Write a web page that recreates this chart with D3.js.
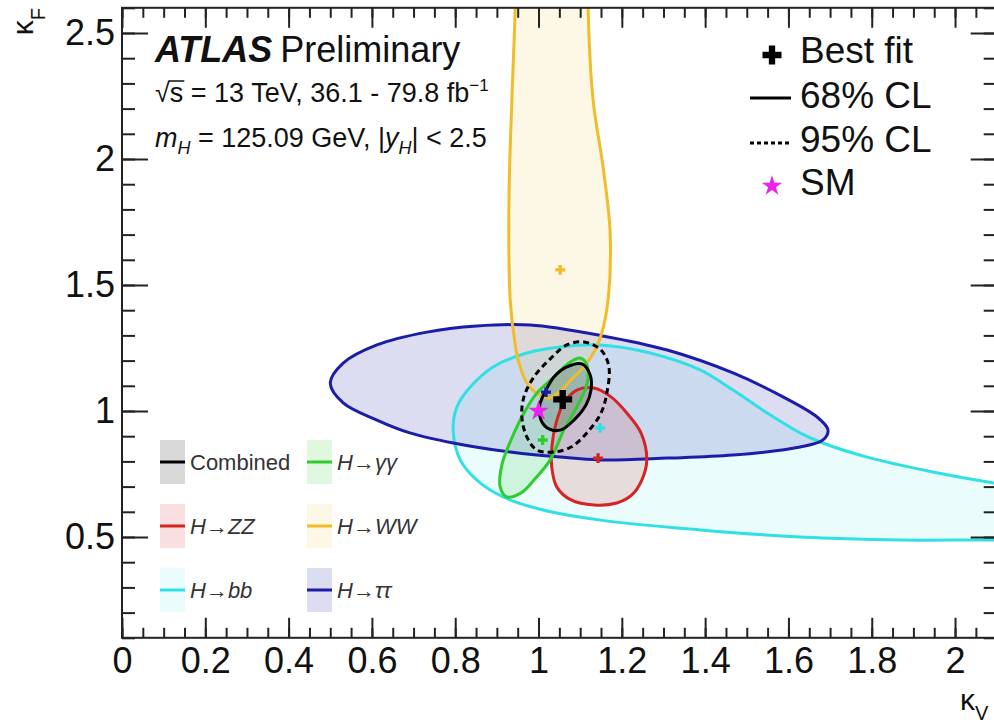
<!DOCTYPE html>
<html>
<head>
<meta charset="utf-8">
<script src="https://cdn.jsdelivr.net/npm/d3@7"></script>
<style>
  body { margin: 0; background: #fff; }
  svg { display: block; font-family: "Liberation Sans", Arial, sans-serif; }
</style>
</head>
<body>
<div id="chart"></div>
<script>
// tick values (kappa_V on x, kappa_F on y)
const xTickValues = [0, 0.2, 0.4, 0.6, 0.8, 1.0, 1.2, 1.4, 1.6, 1.8, 2.0];
const yTickValues = [0.5, 1.0, 1.5, 2.0, 2.5];

// contour points [kappa_V, kappa_F]
const contourBB = [
  [0.795, 0.925], [0.804, 1.016], [0.836, 1.095], [0.891, 1.175], [0.972, 1.230],
  [1.052, 1.254], [1.148, 1.262], [1.268, 1.230], [1.388, 1.163], [1.467, 1.083],
  [1.549, 0.992], [1.628, 0.913], [1.676, 0.877], [1.789, 0.817], [1.947, 0.758],
  [2.094, 0.714], [2.20, 0.690], [2.28, 0.630], [2.28, 0.520], [2.20, 0.485],
  [2.094, 0.488], [1.868, 0.488], [1.628, 0.500], [1.388, 0.528], [1.148, 0.567],
  [1.011, 0.607], [0.915, 0.659], [0.852, 0.726], [0.812, 0.806]
];
const contourTauTau = [
  [0.500, 1.111], [0.531, 1.190], [0.612, 1.262], [0.732, 1.313], [0.852, 1.337],
  [0.980, 1.341], [1.148, 1.300], [1.309, 1.242], [1.467, 1.151], [1.587, 1.056],
  [1.669, 0.976], [1.695, 0.925], [1.683, 0.885], [1.628, 0.857], [1.467, 0.825],
  [1.309, 0.813], [1.148, 0.806], [1.052, 0.817], [0.932, 0.837], [0.795, 0.873],
  [0.691, 0.913], [0.612, 0.964], [0.531, 1.032]
];
const contourWW = [
  [0.944, 2.671], [1.032, 2.730], [1.119, 2.671], [1.119, 2.599], [1.131, 2.234],
  [1.155, 1.968], [1.172, 1.706], [1.167, 1.440], [1.152, 1.310], [1.136, 1.242],
  [1.109, 1.175], [1.078, 1.123], [1.047, 1.071], [1.023, 1.052], [0.994, 1.071],
  [0.972, 1.111], [0.953, 1.190], [0.944, 1.262], [0.932, 1.440], [0.929, 1.837],
  [0.936, 2.234], [0.944, 2.599]
];
const contourGamGam = [
  [1.100, 1.210], [1.116, 1.183], [1.116, 1.103], [1.092, 1.016], [1.061, 0.925],
  [1.028, 0.806], [0.989, 0.726], [0.958, 0.675], [0.924, 0.659], [0.908, 0.698],
  [0.912, 0.786], [0.934, 0.885], [0.965, 0.992], [0.996, 1.071], [1.037, 1.135],
  [1.076, 1.194]
];
const contourZZ = [
  [1.092, 1.083], [1.133, 1.091], [1.174, 1.056], [1.212, 0.992], [1.246, 0.913],
  [1.260, 0.806], [1.248, 0.726], [1.224, 0.667], [1.188, 0.635], [1.133, 0.627],
  [1.078, 0.647], [1.044, 0.698], [1.032, 0.774], [1.032, 0.857], [1.042, 0.952],
  [1.061, 1.032]
];
const contourComb68 = [
  [1.104, 1.187], [1.124, 1.143], [1.126, 1.083], [1.114, 1.024], [1.085, 0.964],
  [1.054, 0.925], [1.025, 0.929], [1.006, 0.964], [1.003, 1.024], [1.018, 1.083],
  [1.037, 1.135], [1.068, 1.175]
];
const contourComb95 = [
  [1.109, 1.274], [1.150, 1.242], [1.169, 1.175], [1.164, 1.071], [1.150, 0.992],
  [1.116, 0.913], [1.078, 0.857], [1.037, 0.837], [0.996, 0.845], [0.972, 0.897],
  [0.960, 0.976], [0.965, 1.056], [0.989, 1.135], [1.030, 1.210], [1.068, 1.262]
];

// best-fit points [channel, kappa_V, kappa_F]
const bestFitPoints = [
  ["bb", 1.148, 0.933], ["tautau", 1.018, 1.075], ["WW", 1.052, 1.560],
  ["ZZ", 1.143, 0.813], ["gamgam", 1.010, 0.885]
];
const combinedBestFit = [1.058, 1.046];
const smPoint = [1.0, 1.0];

// legend
const legendChannels = ["comb", "gamgam", "ZZ", "WW", "bb", "tautau"];
const legendLabels = ["Combined", "H→γγ", "H→ZZ", "H→WW", "H→bb", "H→ττ"];

// styles
const colors = {
  bb: "#30e0e4", tautau: "#1c1caa", WW: "#f0bc28",
  ZZ: "#d42525", gamgam: "#2ecc2e", comb: "#000000"
};
const fillOpacity = { bb: 0.1, tautau: 0.15, WW: 0.12, ZZ: 0.15, gamgam: 0.15, comb: 0.15 };

const width = 994, height = 723;
const svg = d3.select("#chart").append("svg")
  .attr("width", width).attr("height", height);

const x = d3.scaleLinear().domain([0, 2.1]).range([122, 996.7]);
const y = d3.scaleLinear().domain([0.1, 2.6]).range([637.8, 7.8]);

svg.append("defs").append("clipPath").attr("id", "plot-clip")
  .append("rect")
  .attr("x", x(0)).attr("y", y(2.6))
  .attr("width", x(2.1) - x(0)).attr("height", y(0.1) - y(2.6));

const line = d3.line()
  .x((d) => x(d[0]))
  .y((d) => y(d[1]))
  .curve(d3.curveCatmullRomClosed.alpha(0.5));

const plot = svg.append("g").attr("clip-path", "url(#plot-clip)");

const contours = [
  { key: "bb", pts: contourBB },
  { key: "tautau", pts: contourTauTau },
  { key: "WW", pts: contourWW },
  { key: "ZZ", pts: contourZZ },
  { key: "gamgam", pts: contourGamGam },
  { key: "comb", pts: contourComb68 }
];

// fills first, then outlines
plot.selectAll(".fill").data(contours).enter().append("path")
  .attr("class", "fill")
  .attr("d", (d) => line(d.pts))
  .attr("fill", (d) => colors[d.key])
  .attr("fill-opacity", (d) => fillOpacity[d.key])
  .attr("stroke", "none");

plot.selectAll(".outline").data(contours).enter().append("path")
  .attr("class", "outline")
  .attr("d", (d) => line(d.pts))
  .attr("fill", "none")
  .attr("stroke", (d) => colors[d.key])
  .attr("stroke-width", 3);

plot.append("path")
  .attr("d", line(contourComb95))
  .attr("fill", "none")
  .attr("stroke", "#000")
  .attr("stroke-width", 3)
  .attr("stroke-dasharray", "6 4");

// best-fit markers
plot.selectAll(".bf").data(bestFitPoints).enter().append("path")
  .attr("class", "bf")
  .attr("transform", (d) => `translate(${x(d[1])},${y(d[2])})`)
  .attr("d", d3.symbol(d3.symbolCross, 55))
  .attr("fill", (d) => colors[d[0]]);

plot.append("path")
  .attr("transform", `translate(${x(smPoint[0])},${y(smPoint[1])})`)
  .attr("d", d3.symbol(d3.symbolStar, 130))
  .attr("fill", "#ee22ee");

plot.append("path")
  .attr("transform", `translate(${x(combinedBestFit[0])},${y(combinedBestFit[1])})`)
  .attr("d", d3.symbol(d3.symbolCross, 200))
  .attr("fill", "#000");

// axes with inward ticks
const xMinor = d3.range(0, 2.1001, 0.05);
const yMinor = d3.range(0.1, 2.6001, 0.1);
const axisStyle = (g) => {
  g.select(".domain").remove();
  g.selectAll("line").attr("stroke", "#222").attr("stroke-width", 2);
  g.selectAll("text").attr("fill", "#111").attr("font-size", 36);
};

svg.append("g").attr("transform", `translate(0,${y(0.1)})`)
  .call(d3.axisBottom(x).tickValues(xMinor).tickSize(-10).tickFormat(""))
  .call(axisStyle);
svg.append("g").attr("transform", `translate(0,${y(0.1)})`)
  .call(d3.axisBottom(x).tickValues(xTickValues).tickSize(-20).tickPadding(10)
    .tickFormat(d3.format("~g")))
  .call(axisStyle);
svg.append("g").attr("transform", `translate(0,${y(2.6)})`)
  .call(d3.axisTop(x).tickValues(xMinor).tickSize(-10).tickFormat(""))
  .call(axisStyle);
svg.append("g").attr("transform", `translate(0,${y(2.6)})`)
  .call(d3.axisTop(x).tickValues(xTickValues).tickSize(-20).tickFormat(""))
  .call(axisStyle);

svg.append("g").attr("transform", `translate(${x(0)},0)`)
  .call(d3.axisLeft(y).tickValues(yMinor).tickSize(-13).tickFormat(""))
  .call(axisStyle);
svg.append("g").attr("transform", `translate(${x(0)},0)`)
  .call(d3.axisLeft(y).tickValues(yTickValues).tickSize(-26).tickPadding(7)
    .tickFormat(d3.format("~g")))
  .call(axisStyle);
svg.append("g").attr("transform", `translate(${x(2.1)},0)`)
  .call(d3.axisRight(y).tickValues(yMinor).tickSize(-13).tickFormat(""))
  .call(axisStyle);
svg.append("g").attr("transform", `translate(${x(2.1)},0)`)
  .call(d3.axisRight(y).tickValues(yTickValues).tickSize(-26).tickFormat(""))
  .call(axisStyle);

// frame
svg.append("rect")
  .attr("x", x(0)).attr("y", y(2.6))
  .attr("width", x(2.1) - x(0)).attr("height", y(0.1) - y(2.6))
  .attr("fill", "none").attr("stroke", "#222").attr("stroke-width", 2);

// axis titles
const yTitle = svg.append("text")
  .attr("transform", "translate(33,8) rotate(-90)")
  .attr("text-anchor", "end")
  .attr("font-size", 30).attr("fill", "#111");
yTitle.append("tspan").text("κ");
yTitle.append("tspan").attr("font-size", 20).attr("dy", 12).text("F");

const xTitle = svg.append("text")
  .attr("x", 960).attr("y", 710)
  .attr("font-size", 30).attr("fill", "#111");
xTitle.append("tspan").text("κ");
xTitle.append("tspan").attr("font-size", 20).attr("dy", 10).text("V");

// ATLAS label block
const atlas = svg.append("text").attr("x", 155).attr("y", 62)
  .attr("font-size", 36).attr("fill", "#111");
atlas.append("tspan").attr("font-weight", "bold").attr("font-style", "italic").text("ATLAS");
atlas.append("tspan").attr("dx", 8).text("Preliminary");

const energy = svg.append("text").attr("x", 155).attr("y", 102)
  .attr("font-size", 27).attr("fill", "#111");
energy.append("tspan").text("√s");
energy.append("tspan").text(" = 13 TeV, 36.1 - 79.8 fb");
energy.append("tspan").attr("font-size", 17).attr("dy", -11).text("−1");
{
  const node = energy.node();
  const wRoot = node.getSubStringLength(0, 1);
  const wS = node.getSubStringLength(1, 1);
  svg.append("line")
    .attr("x1", 155 + wRoot - 1).attr("x2", 155 + wRoot + wS + 1)
    .attr("y1", 102 - 21).attr("y2", 102 - 21)
    .attr("stroke", "#111").attr("stroke-width", 1.5);
}

const mass = svg.append("text").attr("x", 155).attr("y", 147)
  .attr("font-size", 27).attr("fill", "#111");
mass.append("tspan").attr("font-style", "italic").text("m");
mass.append("tspan").attr("font-style", "italic").attr("font-size", 18).attr("dy", 7).text("H");
mass.append("tspan").attr("dy", -7).text(" = 125.09 GeV, |");
mass.append("tspan").attr("font-style", "italic").text("y");
mass.append("tspan").attr("font-style", "italic").attr("font-size", 18).attr("dy", 7).text("H");
mass.append("tspan").attr("dy", -7).text("| < 2.5");

// top-right legend
const legR = svg.append("g").attr("font-size", 37).attr("fill", "#111");
const legRRows = [63, 108, 152, 195];
legR.append("path").attr("transform", "translate(772,55)")
  .attr("d", d3.symbol(d3.symbolCross, 200)).attr("fill", "#000");
legR.append("line").attr("x1", 750).attr("x2", 791).attr("y1", 98).attr("y2", 98)
  .attr("stroke", "#000").attr("stroke-width", 3);
legR.append("line").attr("x1", 750).attr("x2", 791).attr("y1", 143).attr("y2", 143)
  .attr("stroke", "#000").attr("stroke-width", 3).attr("stroke-dasharray", "4 3");
legR.append("path").attr("transform", "translate(772,186)")
  .attr("d", d3.symbol(d3.symbolStar, 130)).attr("fill", "#ee22ee");
legR.selectAll("text").data(["Best fit", "68% CL", "95% CL", "SM"]).enter().append("text")
  .attr("x", 800).attr("y", (d, i) => legRRows[i]).text((d) => d);

// bottom-left legend
const legL = svg.append("g");
const colX = [160, 307];
const rowY = [462, 526, 590];
legendChannels.forEach((key, i) => {
  const cx = colX[i % 2], cy = rowY[Math.floor(i / 2)];
  legL.append("rect")
    .attr("x", cx).attr("y", cy - 22).attr("width", 25).attr("height", 44)
    .attr("fill", colors[key]).attr("fill-opacity", fillOpacity[key]);
  legL.append("line")
    .attr("x1", cx).attr("x2", cx + 25).attr("y1", cy).attr("y2", cy)
    .attr("stroke", colors[key]).attr("stroke-width", 3);
  legL.append("text")
    .attr("x", cx + 30).attr("y", cy + 8)
    .attr("font-size", 22).attr("fill", "#333")
    .attr("font-style", key === "comb" ? "normal" : "italic")
    .text(legendLabels[i]);
});
</script>
</body>
</html>
